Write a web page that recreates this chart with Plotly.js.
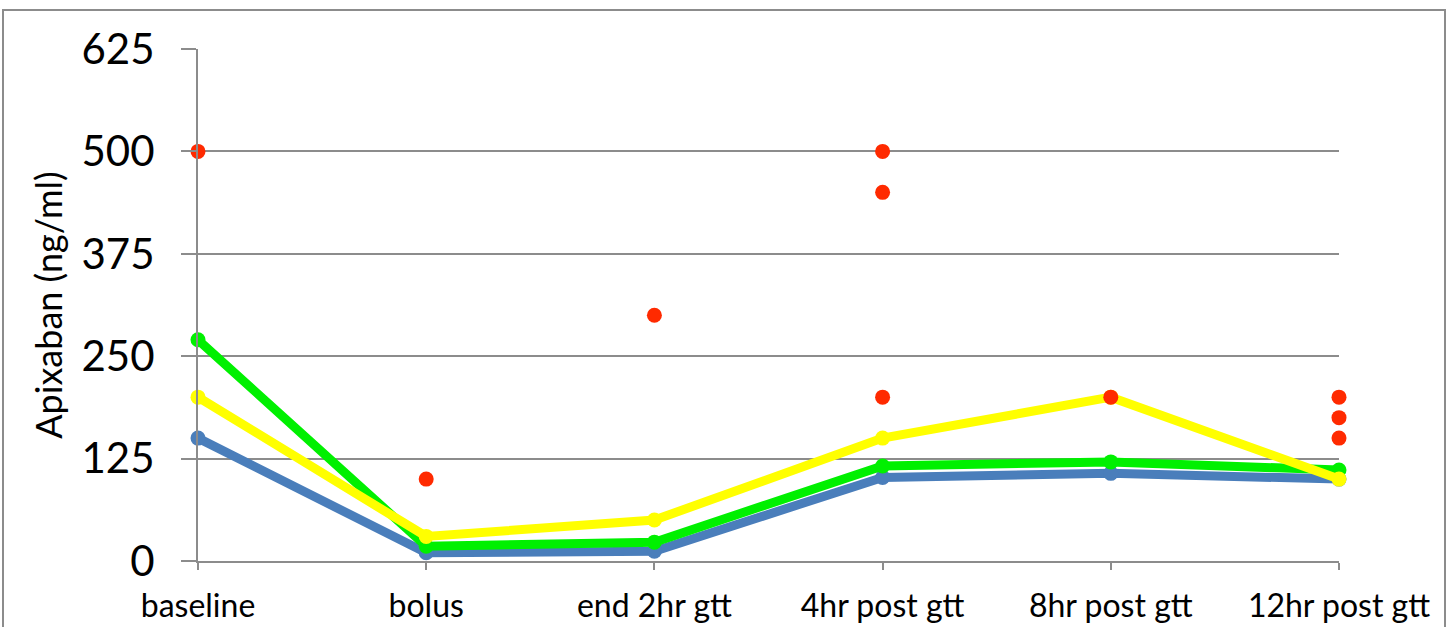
<!DOCTYPE html>
<html><head><meta charset="utf-8">
<script src="https://cdn.plot.ly/plotly-3.0.1.min.js"></script>
<style>
html,body{margin:0;padding:0;background:#fff;overflow:hidden;}
#chart{position:absolute;left:0;top:0;width:1447px;height:627px;}
#frame{position:absolute;left:2px;top:9px;width:1440px;height:700px;border:2px solid #8c8c8c;pointer-events:none;}
</style></head>
<body>
<div id="chart"></div>
<div id="frame"></div>
<script>
const categories = ["baseline","bolus","end 2hr gtt","4hr post gtt","8hr post gtt","12hr post gtt"];
const blueValues   = [150, 10, 12, 102, 107, 100];
const greenValues  = [270, 18, 23, 116, 121, 111];
const yellowValues = [200, 30, 50, 150, 200, 100];
const redX = ["baseline","bolus","end 2hr gtt","4hr post gtt","4hr post gtt","4hr post gtt","8hr post gtt","12hr post gtt","12hr post gtt","12hr post gtt"];
const redY = [500, 100, 300, 500, 450, 200, 200, 200, 175, 150];
const yTicks = [0, 125, 250, 375, 500, 625];

function lineTrace(y, color){
  return {x: categories, y: y, type:'scatter', mode:'lines+markers',
    line:{color: color, width: 9}, marker:{color: color, size: 15},
    cliponaxis:false, hoverinfo:'skip'};
}
const traces = [
  lineTrace(blueValues, '#4a7ebb'),
  lineTrace(greenValues, '#00f000'),
  lineTrace(yellowValues, '#ffff00'),
  {x: redX, y: redY, type:'scatter', mode:'markers',
   marker:{color:'#ff2a00', size:15}, cliponaxis:false, hoverinfo:'skip'}
];
const layout = {
  width:1447, height:627,
  margin:{l:198, r:108, t:49, b:66},
  paper_bgcolor:'#fff', plot_bgcolor:'#fff',
  showlegend:false,
  font:{family:'Lato, "Open Sans", sans-serif', color:'#000'},
  xaxis:{type:'category', range:[0,5], showgrid:false, zeroline:false,
    showline:true, linecolor:'#8c8c8c', linewidth:2,
    ticks:'outside', ticklen:7, tickwidth:2, tickcolor:'#8c8c8c',
    ticklabelstandoff:9, tickfont:{size:32}},
  yaxis:{range:[0,625], tickvals:yTicks, ticktext:yTicks.map(String),
    showgrid:true, gridcolor:'#8c8c8c', gridwidth:2, zeroline:false,
    showline:true, linecolor:'#8c8c8c', linewidth:2,
    ticks:'outside', ticklen:15, tickwidth:2, tickcolor:'#8c8c8c',
    ticklabelstandoff:18, tickfont:{size:42},
    title:{text:'Apixaban (ng/ml)', font:{size:36}, standoff:8}}
};
Plotly.newPlot('chart', traces, layout, {staticPlot:true});
</script>
</body></html>
